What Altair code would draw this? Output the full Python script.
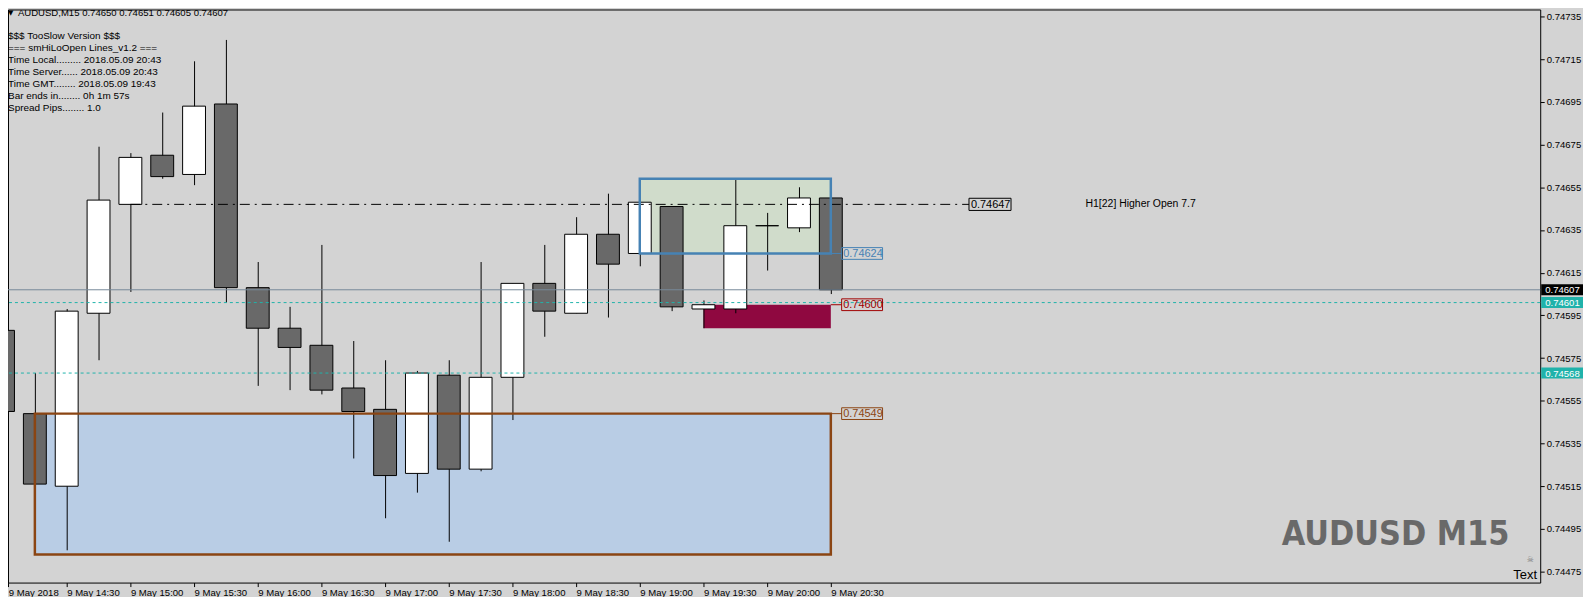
import json
import altair as alt
import pandas as pd

# ---------------- data ----------------
times = ["14:00", "14:15", "14:30", "14:45", "15:00", "15:15", "15:30", "15:45",
         "16:00", "16:15", "16:30", "16:45", "17:00", "17:15", "17:30", "17:45",
         "18:00", "18:15", "18:30", "18:45", "19:00", "19:15", "19:30", "19:45",
         "20:00", "20:15", "20:30"]
opens = [0.74588, 0.74549, 0.74515, 0.74596, 0.74647, 0.74670, 0.74661, 0.74694,
         0.74608, 0.74589, 0.74581, 0.74561, 0.74551, 0.74521, 0.74567, 0.74523,
         0.74566, 0.74610, 0.74596, 0.74633, 0.74624, 0.74646, 0.74598, 0.74598,
         0.74637, 0.74636, 0.74650]
highs = [0.74607, 0.74568, 0.74598, 0.74674, 0.74671, 0.74690, 0.74714, 0.74724,
         0.74620, 0.74599, 0.74628, 0.74583, 0.74574, 0.74569, 0.74574, 0.74620,
         0.74610, 0.74628, 0.74641, 0.74652, 0.74648, 0.74646, 0.74602, 0.74659,
         0.74643, 0.74655, 0.74651]
lows = [0.74526, 0.74516, 0.74485, 0.74574, 0.74606, 0.74659, 0.74656, 0.74601,
        0.74562, 0.74560, 0.74558, 0.74528, 0.74500, 0.74512, 0.74489, 0.74522,
        0.74546, 0.74585, 0.74596, 0.74594, 0.74618, 0.74597, 0.74589, 0.74596,
        0.74616, 0.74634, 0.74605]
closes = [0.74550, 0.74516, 0.74597, 0.74649, 0.74669, 0.74660, 0.74693, 0.74608,
          0.74589, 0.74580, 0.74560, 0.74550, 0.74520, 0.74568, 0.74523, 0.74566,
          0.74610, 0.74597, 0.74633, 0.74619, 0.74648, 0.74599, 0.74600, 0.74637,
          0.74637, 0.74650, 0.74607]

x_tick_labels = ["9 May 2018", "9 May 14:30", "9 May 15:00", "9 May 15:30", "9 May 16:00",
                 "9 May 16:30", "9 May 17:00", "9 May 17:30", "9 May 18:00", "9 May 18:30",
                 "9 May 19:00", "9 May 19:30", "9 May 20:00", "9 May 20:30"]
y_ticks = [0.74475, 0.74495, 0.74515, 0.74535, 0.74555, 0.74575, 0.74595,
           0.74615, 0.74635, 0.74655, 0.74675, 0.74695, 0.74715, 0.74735]

header_text = "AUDUSD,M15  0.74650 0.74651 0.74605 0.74607"
info_lines = ["$$$ TooSlow Version $$$",
              "=== smHiLoOpen Lines_v1.2 ===",
              "Time Local......... 2018.05.09 20:43",
              "Time Server...... 2018.05.09 20:43",
              "Time GMT........ 2018.05.09 19:43",
              "Bar ends in........ 0h 1m 57s",
              "Spread Pips........ 1.0"]

bid_price = 0.74607
teal_levels = [0.74601, 0.74568]
open_line_price = 0.74647
open_line_start = "15:00"
open_line_text = "H1[22] Higher Open 7.7"

zone_kinds = ["lower", "upper", "open"]
zone_start = ["14:15", "19:00", "19:30"]
zone_end = ["20:30", "20:30", "20:30"]
zone_low = [0.74483, 0.74624, 0.74589]
zone_high = [0.74549, 0.74659, 0.74600]
zone_label_price = [0.74549, 0.74624, 0.74600]
zone_label_text = ["0.74549", "0.74624", "0.74600"]

# ---------------- styles ----------------
ZONE_FILL = {"lower": "#B9CDE5", "upper": "#D0DCCB", "open": "#8F0840"}
ZONE_LINE = {"lower": "#8B4513", "upper": "#4682B4", "open": "#A00000"}
TEAL = "#20B2AA"
FONT = "Liberation Sans"
BG = "#D3D3D3"

# ---------------- frames ----------------
df = pd.DataFrame({"time": times, "open": opens, "high": highs, "low": lows, "close": closes})
df["idx"] = [times.index(t) for t in times]
df["top"] = df[["open", "close"]].max(axis=1)
df["bot"] = df[["open", "close"]].min(axis=1)
df["dir"] = ["up" if c >= o else "down" for o, c in zip(opens, closes)]

zones = pd.DataFrame({
    "kind": zone_kinds,
    "s": [times.index(t) for t in zone_start],
    "e": [times.index(t) for t in zone_end],
    "lo": zone_low, "hi": zone_high,
    "price": zone_label_price, "text": zone_label_text,
})

bid_df = pd.DataFrame({"price": [bid_price], "text": ["%.5f" % bid_price]})
teal_df = pd.DataFrame({"price": teal_levels, "text": ["%.5f" % v for v in teal_levels]})
open_df = pd.DataFrame({"price": [open_line_price], "s": [times.index(open_line_start)],
                        "text": ["%.5f" % open_line_price], "note": [open_line_text]})
one = pd.DataFrame({"t": [header_text]})

# ---------------- scales / axes ----------------
W, H = 1540, 576
X_MIN, X_MAX = 0.15625, 48.28125
Y_MIN, Y_MAX = 0.7446988, 0.7473826

xscale = alt.Scale(domain=[X_MIN, X_MAX], nice=False, zero=False)
yscale = alt.Scale(domain=[Y_MIN, Y_MAX], nice=False, zero=False)
xaxis = alt.Axis(values=[X_MIN + 0.01] + [2 * i for i in range(1, len(x_tick_labels))],
                 labelExpr=json.dumps(x_tick_labels) + "[round(datum.value / 2)]",
                 labelAlign="left", labelBaseline="top", labelPadding=1, labelFlush=False,
                 labelOverlap=False, tickSize=4, tickColor="#000000", domain=False, grid=False,
                 labelFont=FONT, labelFontSize=9.6, labelColor="#000000")
yaxis = alt.Axis(values=y_ticks, format=".5f", orient="right", tickSize=4, tickColor="#000000",
                 labelPadding=2, domain=False, grid=False, labelOverlap=False,
                 labelFont=FONT, labelFontSize=9.6, labelColor="#000000")


def X(f):
    return alt.X(f, type="quantitative", scale=xscale, axis=xaxis, title=None)


def Y(f):
    return alt.Y(f, type="quantitative", scale=yscale, axis=yaxis, title=None)


def kind_filter(k):
    return "datum.kind == '%s'" % k


layers = []

# zone fills (background)
for k in zone_kinds:
    layers.append(alt.Chart(zones).transform_filter(kind_filter(k)).mark_rect(
        color=ZONE_FILL[k], clip=True).encode(x=X("s"), x2="e", y=Y("lo"), y2="hi"))

# candles
HALF = 11.5 / 32
layers.append(alt.Chart(df).mark_rule(color="#000000", strokeWidth=1, xOffset=0.5, clip=True).encode(
    x=X("idx"), y=Y("low"), y2="high"))
layers.append(alt.Chart(df).transform_calculate(
    x0="datum.idx - %f" % HALF, x1="datum.idx + %f" % HALF
).mark_rect(stroke="#000000", strokeWidth=1, clip=True).encode(
    x=X("x0"), x2="x1", y=Y("bot"), y2="top",
    fill=alt.Fill("dir:N", scale=alt.Scale(domain=["up", "down"], range=["#FFFFFF", "#696969"]),
                  legend=None)))

# horizontal lines
layers.append(alt.Chart(bid_df).mark_rule(color="#778899", strokeWidth=1).encode(y=Y("price")))
layers.append(alt.Chart(teal_df).mark_rule(color=TEAL, strokeWidth=1, strokeDash=[3, 3]).encode(
    y=Y("price")))
layers.append(alt.Chart(open_df).transform_calculate(e="30.34").mark_rule(
    color="#000000", strokeWidth=1, strokeDash=[10, 5, 2, 5]).encode(x=X("s"), x2="e", y=Y("price")))
layers.append(alt.Chart(open_df).transform_calculate(
    b0="30.34", b1="31.66", lo="datum.price - 0.0000285", hi="datum.price + 0.0000285"
).mark_rect(fillOpacity=0, stroke="#000000", strokeWidth=1).encode(
    x=X("b0"), x2="b1", y=Y("lo"), y2="hi"))
layers.append(alt.Chart(open_df).transform_calculate(tx="30.40").mark_text(
    align="left", baseline="middle", font=FONT, fontSize=11, color="#000000", dy=0.5).encode(
    x=X("tx"), y=Y("price"), text="text:N"))
layers.append(alt.Chart(open_df).transform_calculate(tx="34.0").mark_text(
    align="left", baseline="middle", font=FONT, fontSize=10.5, color="#000000").encode(
    x=X("tx"), y=Y("price"), text="note:N"))

# zone borders (foreground) and price labels
for k in zone_kinds:
    sub = alt.Chart(zones).transform_filter(kind_filter(k))
    if k != "open":
        layers.append(sub.mark_rect(fillOpacity=0, stroke=ZONE_LINE[k], strokeWidth=2.5,
                                    clip=True).encode(x=X("s"), x2="e", y=Y("lo"), y2="hi"))
    lab = sub.transform_calculate(c0="26", c1="26.34", b0="26.34", b1="27.625", tx="26.39",
                                  lo="datum.price - 0.0000275", hi="datum.price + 0.0000275")
    layers.append(lab.mark_rule(color=ZONE_LINE[k], strokeWidth=1).encode(
        x=X("c0"), x2="c1", y=Y("price")))
    layers.append(lab.mark_rect(fillOpacity=0, stroke=ZONE_LINE[k], strokeWidth=1).encode(
        x=X("b0"), x2="b1", y=Y("lo"), y2="hi"))
    layers.append(lab.mark_text(align="left", baseline="middle", font=FONT, fontSize=11, dy=0.5,
                                color=ZONE_LINE[k]).encode(x=X("tx"), y=Y("price"), text="text:N"))

# right-axis price tags
for d, c in [(bid_df, "#000000"), (teal_df, TEAL)]:
    tb = alt.Chart(d).transform_calculate(lo="datum.price - 0.0000256", hi="datum.price + 0.0000256")
    layers.append(tb.mark_rect(color=c).encode(x=alt.value(1541), x2=alt.value(1583),
                                               y=Y("lo"), y2="hi"))
    layers.append(tb.mark_text(align="left", baseline="middle", font=FONT, fontSize=9.6,
                               color="#FFFFFF", dy=0.5).encode(
        x=alt.value(1545), y=Y("price"), text="text:N"))

# overlay texts
layers.append(alt.Chart(one).mark_text(text="▼", align="left", baseline="middle", font="DejaVu Sans",
                                       fontSize=7, color="#000000").encode(x=alt.value(0), y=alt.value(4)))
layers.append(alt.Chart(one).mark_text(align="left", baseline="middle", font=FONT, fontSize=9.6,
                                       color="#000000").encode(x=alt.value(10), y=alt.value(4), text="t:N"))
layers.append(alt.Chart(one).mark_text(text=info_lines, lineHeight=12, align="left", baseline="top",
                                       font=FONT, fontSize=10, color="#000000").encode(
    x=alt.value(0), y=alt.value(22)))
layers.append(alt.Chart(one).mark_text(text="AUDUSD M15", align="right", baseline="alphabetic",
                                       font="'DejaVu Sans Condensed', 'Liberation Sans Narrow', sans-serif",
                                       fontSize=34, fontWeight="bold", color="#696969").encode(
    x=alt.value(1509), y=alt.value(538)))
layers.append(alt.Chart(one).mark_text(text="☠", align="center", baseline="middle", font="DejaVu Sans",
                                       fontSize=8, color="#808080").encode(x=alt.value(1530), y=alt.value(553)))
layers.append(alt.Chart(one).mark_text(text="Text", align="left", baseline="middle", font=FONT,
                                       fontSize=13, color="#000000").encode(x=alt.value(1513), y=alt.value(568)))

chart = alt.layer(*layers).properties(
    width=W, height=H,
    autosize=alt.AutoSizeParams(type="none"),
    padding={"left": 0, "top": 0, "right": 43, "bottom": 13},
    background=BG,
).configure_view(stroke="#000000", strokeWidth=1)

chart.save("out.html", embed_options={"renderer": "svg", "actions": False})
